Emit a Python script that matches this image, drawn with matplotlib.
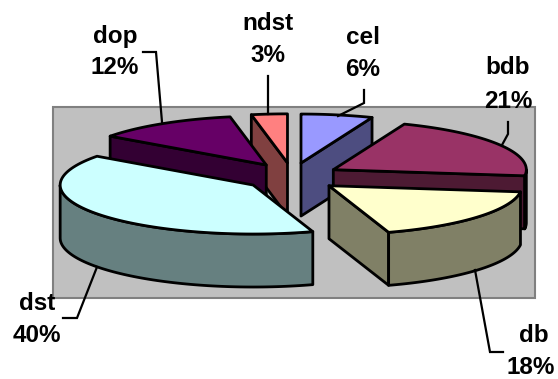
import numpy as np
import matplotlib
matplotlib.use('Agg')
import matplotlib.pyplot as plt
from matplotlib.patches import Polygon, Rectangle

plt.rcParams['font.family'] = ['Liberation Sans', 'DejaVu Sans']

# slices, clockwise from 12 o'clock
names = ['cel', 'bdb', 'db', 'dst', 'dop', 'ndst']
percents = [6, 21, 18, 40, 12, 3]
top_colors = ['#9999FF', '#993366', '#FFFFCC', '#CCFFFF', '#660066', '#FF8080']
side_colors = ['#4D4D80', '#4D1A33', '#808066', '#668080', '#330033', '#804040']

# painter's order, back slices first
draw_order = ['ndst', 'cel', 'dop', 'bdb', 'dst', 'db']

# pie geometry in pixels
cx, cy = 292, 176.8
rx, ry = 193, 49
blow_x, blow_y = 48, 14
depth = 53

# label text centres: name line, percent line
name_pos = {'cel': (363, 37), 'bdb': (508, 68), 'db': (534, 336),
            'dst': (37, 303), 'dop': (115, 36), 'ndst': (268, 23)}
pct_pos = {'cel': (363, 70), 'bdb': (508, 102), 'db': (531, 368),
           'dst': (37, 336), 'dop': (115, 68), 'ndst': (268, 56)}

# leader lines
leaders = {'cel': [(364, 90), (364, 103), (338, 116)],
           'bdb': [(508, 122), (508, 134), (502, 145)],
           'db': [(503, 352), (490, 352), (475, 270)],
           'dst': [(63, 318), (77, 318), (97, 267)],
           'dop': [(143, 52), (156, 52), (162, 122)],
           'ndst': [(268, 76), (268, 114)]}

fig = plt.figure(figsize=(5.58, 3.79), dpi=100)
ax = fig.add_axes([0, 0, 1, 1])
ax.set_xlim(0, 558)
ax.set_ylim(379, 0)
ax.axis('off')

# plot area
ax.add_patch(Rectangle((53, 107), 482, 191, facecolor='#C0C0C0',
                       edgecolor='#808080', linewidth=1.5, zorder=1))


def rim(ox, oy, a1, a2):
    t = np.radians(np.linspace(a1, a2, 80))
    return np.column_stack([ox + rx * np.sin(t), oy - ry * np.cos(t)])


def face(pts, color, z):
    ax.add_patch(Polygon(pts, closed=True, facecolor=color, edgecolor='black',
                         linewidth=2.0, joinstyle='round', zorder=z))


def radial_wall(ox, oy, ang, color, z):
    t = np.radians(ang)
    ex, ey = ox + rx * np.sin(t), oy - ry * np.cos(t)
    face([(ox, oy), (ex, ey), (ex, ey + depth), (ox, oy + depth)], color, z)


edges = np.cumsum([0] + percents) * 3.6
spans = {n: (edges[i], edges[i + 1], top_colors[i], side_colors[i])
         for i, n in enumerate(names)}

z = 2
for n in draw_order:
    a1, a2, top, side = spans[n]
    mid = np.radians((a1 + a2) / 2)
    ox = cx + blow_x * np.sin(mid)
    oy = cy - blow_y * np.cos(mid)

    # cut faces that turn towards the viewer
    if np.sin(np.radians(a1)) < -1e-6:
        radial_wall(ox, oy, a1, side, z)
    if np.sin(np.radians(a2)) > 1e-6:
        radial_wall(ox, oy, a2, side, z)

    # outer rim, front half only
    lo, hi = max(a1, 90), min(a2, 270)
    if lo < hi:
        arc = rim(ox, oy, lo, hi)
        face(np.vstack([arc, arc[::-1] + [0, depth]]), side, z)

    face(np.vstack([[(ox, oy)], rim(ox, oy, a1, a2)]), top, z)
    z += 1

for n, pct in zip(names, percents):
    pts = np.array(leaders[n])
    ax.plot(pts[:, 0], pts[:, 1], color='black', linewidth=1.6, zorder=20,
            solid_joinstyle='miter')
    ax.text(*name_pos[n], n, ha='center', va='center', fontsize=17.5,
            fontweight='bold', zorder=21)
    ax.text(*pct_pos[n], f'{pct}%', ha='center', va='center', fontsize=17.5,
            fontweight='bold', zorder=21)

fig.savefig('out.png', dpi=100, facecolor='white')
